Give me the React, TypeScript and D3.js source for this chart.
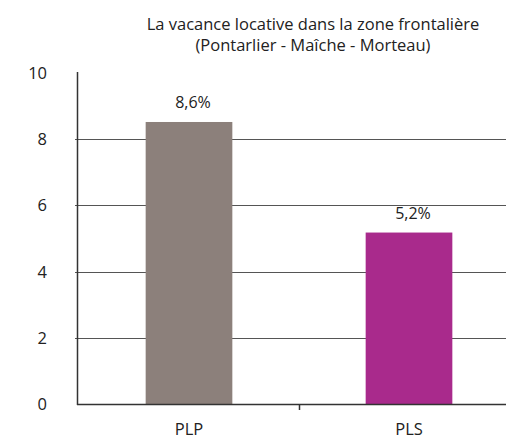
import { useEffect, useRef } from 'react'
import * as d3 from 'd3'

const W = 506
const H = 437

const categories = ['PLP', 'PLS']
const values = [8.52, 5.18]
const valueLabels = ['8,6%', '5,2%']
const barColors = ['#8c807b', '#a92a8c']
const yTicks = [0, 2, 4, 6, 8, 10]
const titleLines = ['La vacance locative dans la zone frontalière', '(Pontarlier - Maîche - Morteau)']

const FONT = '"Open Sans", "Noto Sans", sans-serif'

export default function App() {
  const svgRef = useRef<SVGSVGElement>(null)

  useEffect(() => {
    if (!svgRef.current) return
    const svg = d3.select(svgRef.current)
    svg.selectAll('*').remove()

    const left = 77
    const y = d3.scaleLinear().domain([0, 10]).range([404, 73])
    const x = d3.scaleBand<string>().domain(categories).range([79, 519]).padding(0)
    const barW = x.bandwidth() * 0.394

    svg.append('rect').attr('width', W).attr('height', H).attr('fill', '#fff')

    // title
    svg.selectAll('text.title')
      .data(titleLines)
      .join('text')
      .attr('class', 'title')
      .attr('x', 313)
      .attr('y', (_, i) => 30 + i * 21)
      .attr('text-anchor', 'middle')
      .attr('font-family', FONT)
      .attr('font-size', 16.5)
      .attr('fill', '#222')
      .text((d) => d)

    // gridlines
    svg.selectAll('line.grid')
      .data(yTicks.filter((t) => t > 0 && t < 10))
      .join('line')
      .attr('class', 'grid')
      .attr('x1', left - 2)
      .attr('x2', W)
      .attr('y1', (d) => Math.round(y(d)) + 0.5)
      .attr('y2', (d) => Math.round(y(d)) + 0.5)
      .attr('stroke', '#555')
      .attr('stroke-width', 1)

    // bars
    svg.selectAll('rect.bar')
      .data(categories)
      .join('rect')
      .attr('class', 'bar')
      .attr('x', (d) => x(d)! + x.bandwidth() / 2 - barW / 2)
      .attr('width', barW)
      .attr('y', (_, i) => y(values[i]))
      .attr('height', (_, i) => y(0) - y(values[i]))
      .attr('fill', (_, i) => barColors[i])

    // value labels
    svg.selectAll('text.val')
      .data(categories)
      .join('text')
      .attr('class', 'val')
      .attr('x', (d) => x(d)! + x.bandwidth() / 2 + 4)
      .attr('y', (_, i) => y(values[i]) - 14)
      .attr('text-anchor', 'middle')
      .attr('font-family', FONT)
      .attr('font-size', 16)
      .attr('fill', '#222')
      .text((_, i) => valueLabels[i])

    // axes
    svg.append('line')
      .attr('x1', left + 0.5).attr('x2', left + 0.5)
      .attr('y1', y(10) - 1).attr('y2', y(0) + 1)
      .attr('stroke', '#333').attr('stroke-width', 1.5)
    svg.append('line')
      .attr('x1', left).attr('x2', W)
      .attr('y1', y(0) + 0.5).attr('y2', y(0) + 0.5)
      .attr('stroke', '#333').attr('stroke-width', 1.5)
    svg.append('line')
      .attr('x1', x(categories[1])! + 0.5).attr('x2', x(categories[1])! + 0.5)
      .attr('y1', y(0)).attr('y2', y(0) + 6)
      .attr('stroke', '#333').attr('stroke-width', 1.5)

    // y tick labels
    svg.selectAll('text.ytick')
      .data(yTicks)
      .join('text')
      .attr('class', 'ytick')
      .attr('x', 47)
      .attr('y', (d) => y(d) + 6)
      .attr('text-anchor', 'end')
      .attr('font-family', FONT)
      .attr('font-size', 16.5)
      .attr('fill', '#222')
      .text((d) => d)

    // x labels
    svg.selectAll('text.xlab')
      .data(categories)
      .join('text')
      .attr('class', 'xlab')
      .attr('x', (d) => x(d)! + x.bandwidth() / 2)
      .attr('y', 435)
      .attr('text-anchor', 'middle')
      .attr('font-family', FONT)
      .attr('font-size', 16.5)
      .attr('fill', '#222')
      .text((d) => d)
  }, [])

  return (
    <svg
      ref={svgRef}
      width={W}
      height={H}
      style={{ display: 'block', position: 'absolute', left: 0, top: 0 }}
    />
  )
}
